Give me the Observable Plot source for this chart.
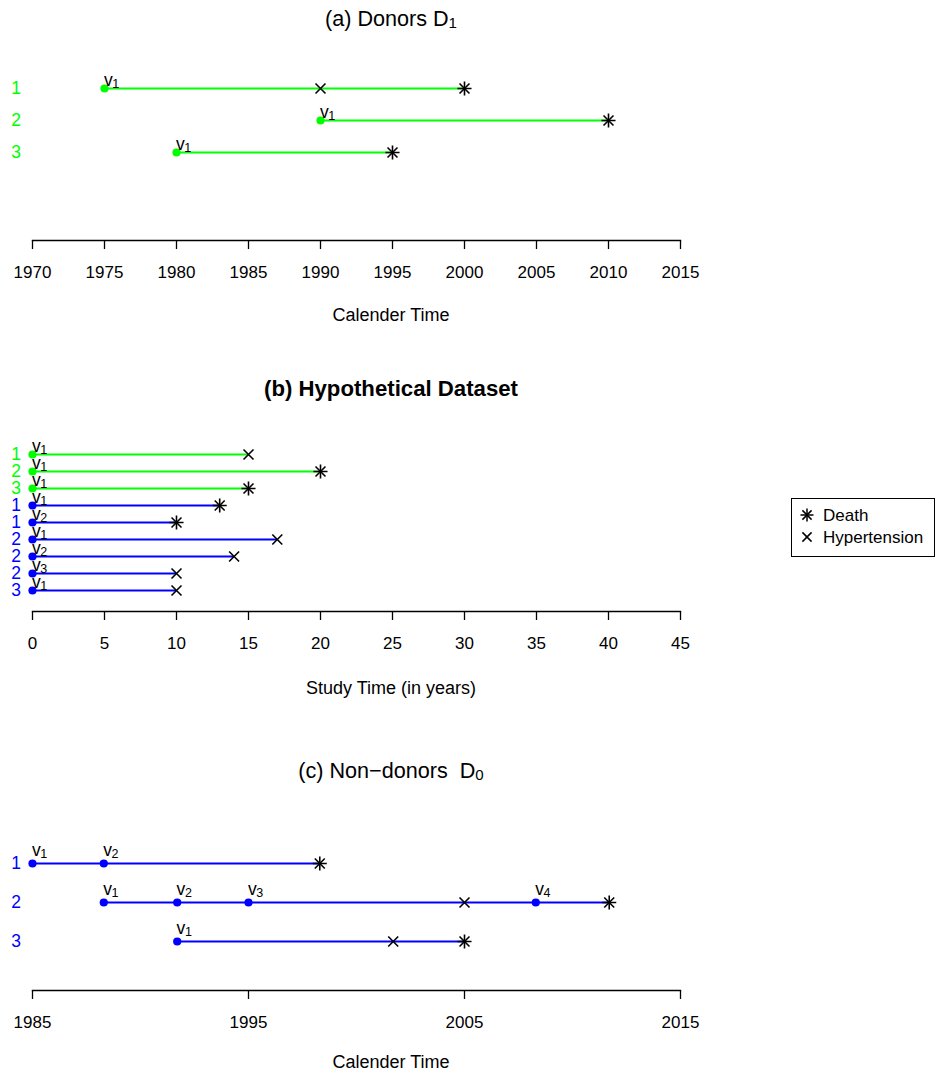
<!DOCTYPE html>
<html>
<head>
<meta charset="utf-8">
<script src="https://cdn.jsdelivr.net/npm/d3@7"></script>
<script src="https://cdn.jsdelivr.net/npm/@observablehq/plot@0.6"></script>
<style>
  html, body { margin: 0; padding: 0; background: #fff; }
  #root { position: relative; width: 935px; height: 1074px; overflow: hidden; font-family: "Liberation Sans", Arial, Helvetica, sans-serif; color: #000; }
  .abs { position: absolute; white-space: pre; line-height: 1; }
  .ctr { transform: translateX(-50%); }
  .sub { font-size: 0.7em; position: relative; top: 0.12em; }
  svg { position: absolute; left: 0; }
</style>
</head>
<body>
<div id="root"></div>
<script>
// ---------- DATA ----------
// Panel (a): Donors D1 (calendar time)
const donorIds = ["1", "2", "3"];
const donorStart = [1975, 1990, 1980];
const donorVisitNum = [1, 1, 1];
const donorEnd = [2000, 2010, 1995];
const donorEventId = ["1", "1", "2", "3"];
const donorEventYear = [1990, 2000, 2010, 1995];
const donorEventType = ["Hypertension", "Death", "Death", "Death"];
const xTicksA = [1970, 1975, 1980, 1985, 1990, 1995, 2000, 2005, 2010, 2015];

// Panel (b): Hypothetical dataset (study time)
const studyIds = ["1", "2", "3", "1", "1", "2", "2", "2", "3"];
const studyGroup = ["donor", "donor", "donor", "nondonor", "nondonor", "nondonor", "nondonor", "nondonor", "nondonor"];
const studyVisit = [1, 1, 1, 1, 2, 1, 2, 3, 1];
const studyEnd = [15, 20, 15, 13, 10, 17, 14, 10, 10];
const studyEvent = ["Hypertension", "Death", "Death", "Death", "Death", "Hypertension", "Hypertension", "Hypertension", "Hypertension"];
const xTicksB = [0, 5, 10, 15, 20, 25, 30, 35, 40, 45];

// Panel (c): Non-donors D0 (calendar time)
const nonDonorIds = ["1", "2", "3"];
const nonDonorVisitId = ["1", "1", "2", "2", "2", "2", "3"];
const nonDonorVisitYear = [1985, 1988.3, 1988.3, 1991.7, 1995, 2008.3, 1991.7];
const nonDonorVisitNum = [1, 2, 1, 2, 3, 4, 1];
const nonDonorEventId = ["1", "2", "2", "3", "3"];
const nonDonorEventYear = [1998.3, 2005, 2011.7, 2001.7, 2005];
const nonDonorEventType = ["Death", "Hypertension", "Death", "Hypertension", "Death"];
const xTicksC = [1985, 1995, 2005, 2015];

const groupColor = { donor: "#00ff00", nondonor: "#0000ff" };
const FONT = '"Liberation Sans", Arial, Helvetica, sans-serif';

// ---------- BUILD TABLES ----------
const tableA = {
  rows: donorIds.map(id => ({ key: id, label: id, color: groupColor.donor })),
  segments: donorIds.map((id, i) => ({ key: id, start: donorStart[i], end: donorEnd[i], color: groupColor.donor })),
  visits: donorIds.map((id, i) => ({ key: id, x: donorStart[i], visit: donorVisitNum[i], color: groupColor.donor })),
  events: donorEventId.map((id, i) => ({ key: id, x: donorEventYear[i], type: donorEventType[i] }))
};

const tableB = {
  rows: studyIds.map((id, i) => ({ key: i, label: id, color: groupColor[studyGroup[i]] })),
  segments: studyIds.map((id, i) => ({ key: i, start: 0, end: studyEnd[i], color: groupColor[studyGroup[i]] })),
  visits: studyIds.map((id, i) => ({ key: i, x: 0, visit: studyVisit[i], color: groupColor[studyGroup[i]] })),
  events: studyIds.map((id, i) => ({ key: i, x: studyEnd[i], type: studyEvent[i] }))
};

const tableC = {
  rows: nonDonorIds.map(id => ({ key: id, label: id, color: groupColor.nondonor })),
  segments: nonDonorIds.map(id => ({
    key: id,
    start: d3.min(nonDonorVisitYear.filter((v, i) => nonDonorVisitId[i] === id)),
    end: d3.max(nonDonorEventYear.filter((v, i) => nonDonorEventId[i] === id)),
    color: groupColor.nondonor
  })),
  visits: nonDonorVisitId.map((id, i) => ({ key: id, x: nonDonorVisitYear[i], visit: nonDonorVisitNum[i], color: groupColor.nondonor })),
  events: nonDonorEventId.map((id, i) => ({ key: id, x: nonDonorEventYear[i], type: nonDonorEventType[i] }))
};

// ---------- DRAW ----------
const root = document.getElementById("root");

function panel(t, cfg) {
  const { top, height, rowTop, rowBottom, axisY, domain, ticks, vDy, subDy } = cfg;
  const hyp = t.events.filter(d => d.type === "Hypertension");
  const death = t.events.filter(d => d.type === "Death");
  const p = Plot.plot({
    width: 935,
    height,
    marginLeft: 32,
    marginRight: 255,
    marginTop: 0,
    marginBottom: height - (axisY - top),
    style: { fontFamily: FONT, fontSize: "17px", color: "#000", background: "transparent", overflow: "visible" },
    x: { domain, nice: false },
    y: { type: "point", domain: t.rows.map(r => r.key), range: [rowTop - top, rowBottom - top], padding: 0, axis: null },
    color: { type: "identity" },
    marks: [
      Plot.frame({ anchor: "bottom", stroke: "#000", strokeWidth: 1.3 }),
      Plot.axisX({ ticks, tickSize: 9, tickPadding: 16, tickFormat: d => String(d), fontSize: 17, stroke: "#000", strokeWidth: 1.3, fill: "#000", label: null }),
      Plot.ruleY(t.segments, { y: "key", x1: "start", x2: "end", stroke: "color", strokeWidth: 1.8 }),
      Plot.dot(t.visits, { x: "x", y: "key", r: 4.1, fill: "color", stroke: null }),
      Plot.text(t.visits, { x: "x", y: "key", text: () => "v", textAnchor: "start", lineAnchor: "bottom", dx: -0.6, dy: vDy, fontSize: 17.5, fill: "#000" }),
      Plot.text(t.visits, { x: "x", y: "key", text: d => String(d.visit), textAnchor: "start", lineAnchor: "bottom", dx: 7.8, dy: vDy + subDy, fontSize: 12.5, fill: "#000" }),
      Plot.dot(hyp, { x: "x", y: "key", symbol: "times", r: 4.6, stroke: "#000", fill: "none", strokeWidth: 1.6 }),
      Plot.dot(death, { x: "x", y: "key", symbol: "times", r: 4.6, stroke: "#000", fill: "none", strokeWidth: 1.6 }),
      Plot.dot(death, { x: "x", y: "key", symbol: "plus", r: 4.6, stroke: "#000", fill: "none", strokeWidth: 1.6 }),
      Plot.text(t.rows, { frameAnchor: "left", y: "key", text: "label", fill: "color", dx: -16.5, textAnchor: "middle", lineAnchor: "middle", fontSize: 17.5 })
    ]
  });
  p.style.top = top + "px";
  root.appendChild(p);
}

panel(tableA, { top: 50, height: 240, rowTop: 87, rowBottom: 152, axisY: 240, domain: [1970, 2015], ticks: xTicksA, vDy: -3, subDy: 2.5 });
panel(tableB, { top: 420, height: 250, rowTop: 453, rowBottom: 590, axisY: 611, domain: [0, 45], ticks: xTicksB, vDy: -2.7, subDy: 2.5 });
panel(tableC, { top: 800, height: 250, rowTop: 862, rowBottom: 941, axisY: 990, domain: [1985, 2015], ticks: xTicksC, vDy: -7.3, subDy: 2 });

// ---------- TEXT (titles, axis titles) ----------
function addText(html, cx, cy, size, bold) {
  const el = document.createElement("div");
  el.className = "abs ctr";
  el.style.left = cx + "px";
  el.style.top = (cy - 0.49 * size) + "px";
  el.style.fontSize = size + "px";
  if (bold) el.style.fontWeight = "bold";
  el.innerHTML = html;
  root.appendChild(el);
}
addText('(a) Donors D<span class="sub">1</span>', 391, 19, 21.6, false);
addText('Calender Time', 391, 315, 18, false);
addText('(b) Hypothetical Dataset', 391, 389, 22.2, true);
addText('Study Time (in years)', 391, 688, 18, false);
addText('(c) Non\u2212donors  D<span class="sub">0</span>', 391, 771, 21.6, false);
addText('Calender Time', 391, 1062, 18, false);

// ---------- LEGEND ----------
const legendLabels = ["Death", "Hypertension"];
const legendSymbols = ["asterisk8", "times"];
const legend = document.createElement("div");
legend.className = "abs";
legend.style.cssText = "left:791px;top:498px;width:144px;height:59px;border:1.3px solid #000;box-sizing:border-box;background:#fff;";
legendLabels.forEach((lab, i) => {
  const cy = 16 + i * 22;
  const s = 4.6;
  const ns = "http://www.w3.org/2000/svg";
  const svg = document.createElementNS(ns, "svg");
  svg.setAttribute("width", 20); svg.setAttribute("height", 20);
  svg.style.cssText = `position:absolute;left:${15 - 10}px;top:${cy - 10}px;`;
  const lines = [[-s, -s, s, s], [-s, s, s, -s]];
  if (legendSymbols[i] === "asterisk8") lines.push([-s * 1.414, 0, s * 1.414, 0], [0, -s * 1.414, 0, s * 1.414]);
  lines.forEach(([x1, y1, x2, y2]) => {
    const l = document.createElementNS(ns, "line");
    l.setAttribute("x1", 10 + x1); l.setAttribute("y1", 10 + y1);
    l.setAttribute("x2", 10 + x2); l.setAttribute("y2", 10 + y2);
    l.setAttribute("stroke", "#000"); l.setAttribute("stroke-width", 1.5);
    svg.appendChild(l);
  });
  legend.appendChild(svg);
  const t = document.createElement("div");
  t.className = "abs";
  t.style.cssText = `left:31px;top:${cy - 8.3}px;font-size:17px;`;
  t.textContent = lab;
  legend.appendChild(t);
});
root.appendChild(legend);
</script>
</body>
</html>
